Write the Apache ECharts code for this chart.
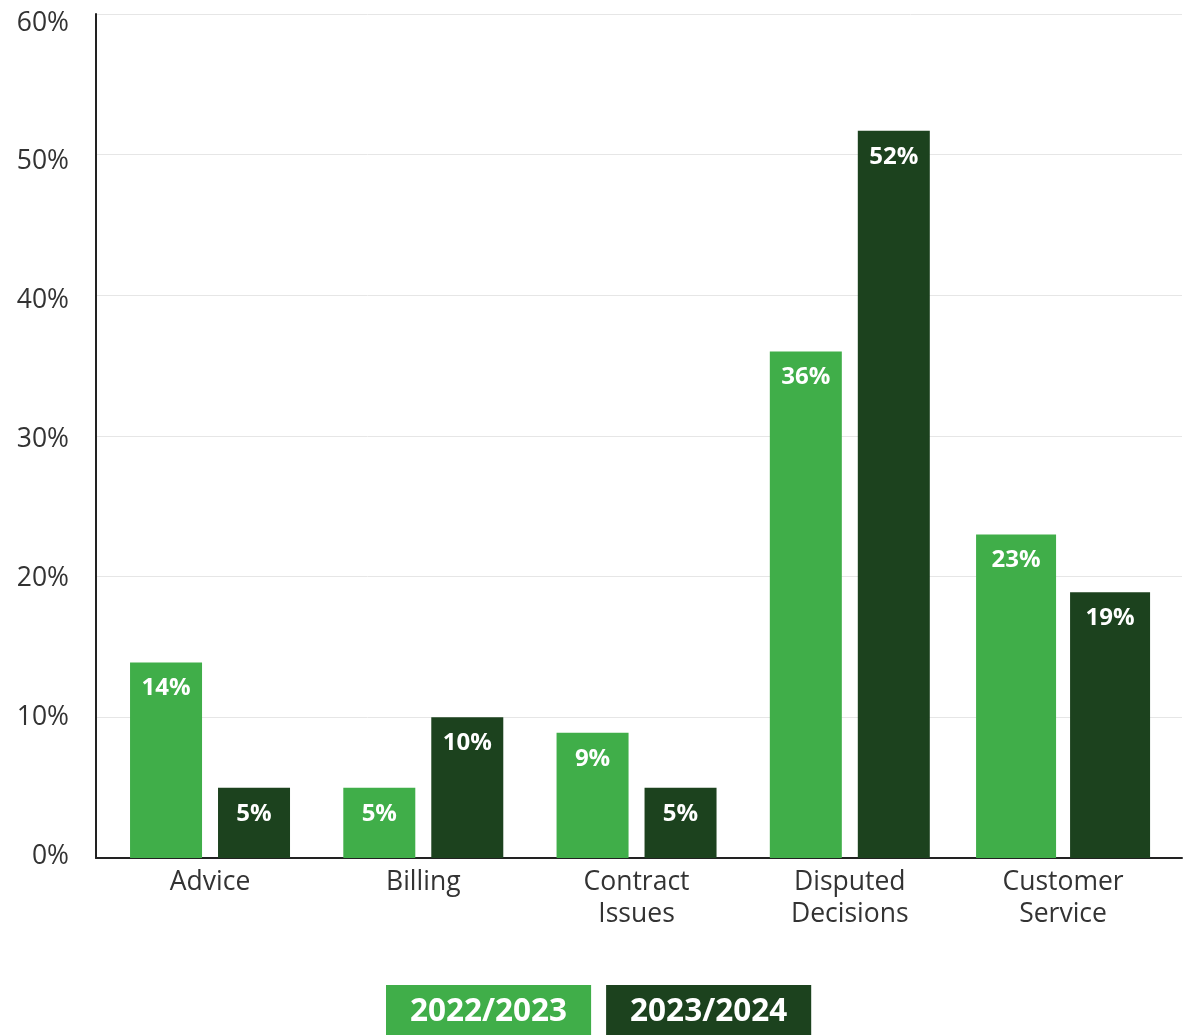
<!DOCTYPE html>
<html>
<head>
<meta charset="utf-8">
<script src="https://cdn.jsdelivr.net/npm/echarts@6/dist/echarts.min.js"></script>
<style>
  html, body { margin: 0; padding: 0; background: #fff; }
  #chart { width: 1187px; height: 1035px; }
</style>
</head>
<body>
<div id="chart"></div>
<script>
const categories = ['Advice', 'Billing', 'Contract\nIssues', 'Disputed\nDecisions', 'Customer\nService'];
const seriesNames = ['2022/2023', '2023/2024'];
const values2022 = [13.9, 5, 8.9, 36, 23];
const values2023 = [5, 10, 5, 51.7, 18.9];
const wideCategories = ['Customer\nService'];
const yTicks = [0, 10, 20, 30, 40, 50, 60];

const LIGHT = '#40ae49';
const DARK = '#1c421e';
const FONT = 'Open Sans';

const chart = echarts.init(document.getElementById('chart'), null, { renderer: 'canvas' });

function split(vals, wide) {
  return vals.map((v, i) => (wide.includes(categories[i]) ? '-' : v));
}
function only(vals, wide) {
  return vals.map((v, i) => (wide.includes(categories[i]) ? v : '-'));
}

const label = {
  show: true,
  position: 'insideTop',
  distance: 14,
  color: '#fff',
  fontFamily: FONT,
  fontWeight: 'bold',
  fontSize: 24,
  formatter: p => Math.round(p.value) + '%'
};

const yMin = yTicks[0], yMax = yTicks[yTicks.length - 1], yStep = yTicks[1] - yTicks[0];

chart.setOption({
  animation: false,
  backgroundColor: '#fff',
  textStyle: { fontFamily: FONT },
  grid: [
    { left: 96, right: 5, top: 14, bottom: 177 },
    { left: 103.4, right: 17.3, top: 14, bottom: 177 },
    { left: 96, right: 5, top: 23, bottom: 179 }
  ],
  xAxis: [
    { gridIndex: 0, type: 'category', data: categories,
      axisLine: { show: true, lineStyle: { color: '#222', width: 2 } },
      axisTick: { show: false }, axisLabel: { show: false }, splitLine: { show: false } },
    { gridIndex: 1, type: 'category', data: categories,
      axisLine: { show: false }, axisTick: { show: false },
      axisLabel: { color: '#333', fontFamily: FONT, fontSize: 26.5, lineHeight: 32, margin: 8, interval: 0 } },
    { gridIndex: 1, type: 'category', data: categories, show: false },
    { gridIndex: 2, type: 'category', data: categories, show: false }
  ],
  yAxis: [
    { gridIndex: 0, type: 'value', min: yMin, max: yMax, interval: yStep,
      axisLine: { show: true, lineStyle: { color: '#222', width: 2 } },
      axisTick: { show: false }, axisLabel: { show: false },
      splitLine: { show: true, lineStyle: { color: '#e6e6e6', width: 1 } } },
    { gridIndex: 1, type: 'value', min: yMin, max: yMax, interval: yStep, show: false, splitLine: { show: false } },
    { gridIndex: 2, type: 'value', min: yMin, max: yMax, interval: yStep,
      axisLine: { show: false }, axisTick: { show: false }, splitLine: { show: false },
      axisLabel: { color: '#333', fontFamily: FONT, fontSize: 26.5, margin: 27, formatter: v => v + '%' } }
  ],
  legend: {
    left: 381, top: 985, padding: 0,
    itemWidth: 0, itemHeight: 0, itemGap: 10,
    selectedMode: false,
    data: [
      { name: seriesNames[0], textStyle: { backgroundColor: LIGHT } },
      { name: seriesNames[1], textStyle: { backgroundColor: DARK } }
    ],
    textStyle: {
      color: '#fff', fontFamily: FONT, fontWeight: 'bold', fontSize: 31.5,
      lineHeight: 38, padding: [11, 24, 5, 24]
    }
  },
  series: [
    { name: seriesNames[0], type: 'bar', xAxisIndex: 1, yAxisIndex: 1,
      data: split(values2022, wideCategories), barWidth: 72, barGap: '22.2%',
      itemStyle: { color: LIGHT }, label },
    { name: seriesNames[1], type: 'bar', xAxisIndex: 1, yAxisIndex: 1,
      data: split(values2023, wideCategories), barWidth: 72, barGap: '22.2%',
      itemStyle: { color: DARK }, label },
    { name: seriesNames[0], type: 'bar', xAxisIndex: 2, yAxisIndex: 1,
      data: only(values2022, wideCategories), barWidth: 80, barGap: '17.5%',
      itemStyle: { color: LIGHT }, label },
    { name: seriesNames[1], type: 'bar', xAxisIndex: 2, yAxisIndex: 1,
      data: only(values2023, wideCategories), barWidth: 80, barGap: '17.5%',
      itemStyle: { color: DARK }, label }
  ]
});
</script>
</body>
</html>
